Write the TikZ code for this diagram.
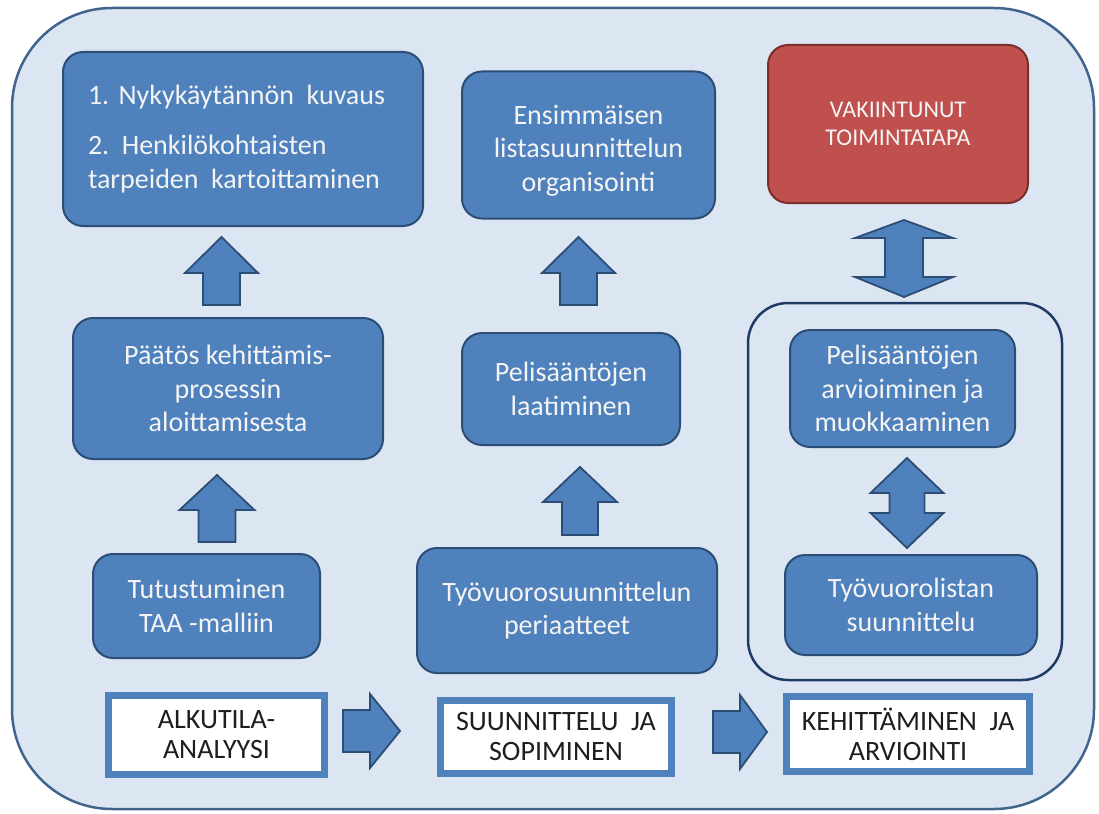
\documentclass[tikz,border=0pt]{standalone}
\usepackage{fontspec}
\setmainfont{Carlito}
\frenchspacing
\definecolor{bgblue}{HTML}{DCE6F2}
\definecolor{frame}{HTML}{41648F}
\definecolor{boxfill}{HTML}{4F81BD}
\definecolor{boxline}{HTML}{2C4D75}
\definecolor{redfill}{HTML}{C0504D}
\definecolor{redline}{HTML}{7A2E2C}
\definecolor{navy}{HTML}{1F3A64}
\definecolor{txtwhite}{HTML}{F4F4F4}
\definecolor{txtdark}{HTML}{1E1E1E}
\newcommand{\blkup}[6]{% cx, tip y, head base y, bottom y, half head, half shaft
  \draw[blockarrow] (#1,#2) -- (#1+#5,#3) -- (#1+#6,#3) -- (#1+#6,#4) -- (#1-#6,#4) -- (#1-#6,#3) -- (#1-#5,#3) -- cycle;}
\newcommand{\blkdbl}[7]{% cx, top tip, top base, bottom base, bottom tip, half head, half shaft
  \draw[blockarrow] (#1,#2) -- (#1+#6,#3) -- (#1+#7,#3) -- (#1+#7,#4) -- (#1+#6,#4) -- (#1,#5) -- (#1-#6,#4) -- (#1-#7,#4) -- (#1-#7,#3) -- (#1-#6,#3) -- cycle;}
\newcommand{\blkright}[6]{% tail x, head base x, tip x, cy, half shaft, half head
  \draw[blockarrow] (#3,#4) -- (#2,#4-#6) -- (#2,#4-#5) -- (#1,#4-#5) -- (#1,#4+#5) -- (#2,#4+#5) -- (#2,#4+#6) -- cycle;}
\newcommand{\wsp}{\hspace{0.45em}}
\tikzset{
  blockarrow/.style={fill=boxfill, draw=boxline, line width=1.8pt, line join=miter},
  bluebox/.style={rectangle, rounded corners=20pt, fill=boxfill, draw=boxline, line width=2pt,
    inner sep=0pt, text=txtwhite, align=center, font=\fontsize{28}{33.5}\selectfont},
  redbox/.style={rectangle, rounded corners=20pt, fill=redfill, draw=redline, line width=2pt,
    inner sep=0pt, text=txtwhite, align=center, font=\fontsize{24}{28}\selectfont},
  groupbox/.style={rectangle, rounded corners=40pt, draw=navy, line width=2.5pt, inner sep=0pt},
  phasebox/.style={rectangle, fill=white, draw=boxfill, line width=7pt, inner sep=0pt,
    text=txtdark, align=center, font=\fontsize{28}{30}\selectfont},
}
\begin{document}
\begin{tikzpicture}[x=1pt,y=-1pt]
\useasboundingbox (0,0) rectangle (1099,813);
\fill[white] (0,0) rectangle (1099,813);
% outer frame
\draw[fill=bgblue, draw=frame, line width=2.5pt, rounded corners=100pt] (12,8) rectangle (1094,809);

% left column
\node[bluebox, minimum width=360pt, minimum height=174pt, text width=310pt, align=left] (b1) at (243,139)
  {1. Nykykäytännön\wsp kuvaus\\[17pt]2.\wsp Henkilökohtaisten\\tarpeiden\wsp kartoittaminen};
\node[bluebox, minimum width=310pt, minimum height=141pt] (b2) at (228,388.5)
  {Päätös kehittämis-\\prosessin\\aloittamisesta};
\node[bluebox, minimum width=227pt, minimum height=104pt] (b3) at (206.5,606)
  {Tutustuminen\\TAA -malliin};

% middle column
\node[bluebox, minimum width=253pt, minimum height=147pt] (m1) at (588.5,145)
  {\\[-3pt]Ensimmäisen\\listasuunnittelun\\organisointi};
\node[bluebox, minimum width=218pt, minimum height=112pt] (m2) at (571,389)
  {Pelisääntöjen\\laatiminen};
\node[bluebox, minimum width=300pt, minimum height=125pt] (m3) at (567,610.5)
  {Työvuorosuunnittelun\\periaatteet};

% right column
\node[redbox, minimum width=260pt, minimum height=158pt] (r0) at (898,124)
  {VAKIINTUNUT\\TOIMINTATAPA};
\node[groupbox, minimum width=314pt, minimum height=377pt] (grp) at (905,491.5) {};
\node[bluebox, minimum width=225pt, minimum height=117pt] (r1) at (902.5,388.5)
  {Pelisääntöjen\\arvioiminen ja\\muokkaaminen};
\node[bluebox, minimum width=252pt, minimum height=100pt] (r2) at (911,605)
  {Työvuorolistan\\suunnittelu};

% phase labels
\node[phasebox, minimum width=216pt, minimum height=79pt] (p1) at (216.5,735) {ALKUTILA-\\ANALYYSI};
\node[phasebox, minimum width=231pt, minimum height=73pt] (p2) at (556,737) {SUUNNITTELU\wsp JA\\SOPIMINEN};
\node[phasebox, minimum width=243pt, minimum height=75pt] (p3) at (908,734) {KEHITTÄMINEN\wsp JA\\ARVIOINTI};

% block arrows
\blkup{221.5}{237}{273}{305}{36.5}{18.5}
\blkup{217}{475}{510}{542}{37.5}{18.5}
\blkup{578.5}{237}{273}{305}{36.5}{18.5}
\blkup{580}{467}{502}{535}{37}{18}
\blkdbl{904}{220}{238}{277}{297}{49}{19}
\blkdbl{907}{458}{493}{513}{548}{36.5}{17.5}
\blkright{343}{370}{400}{731}{21}{37}
\blkright{713}{740}{767}{732}{21}{37}
\end{tikzpicture}
\end{document}
